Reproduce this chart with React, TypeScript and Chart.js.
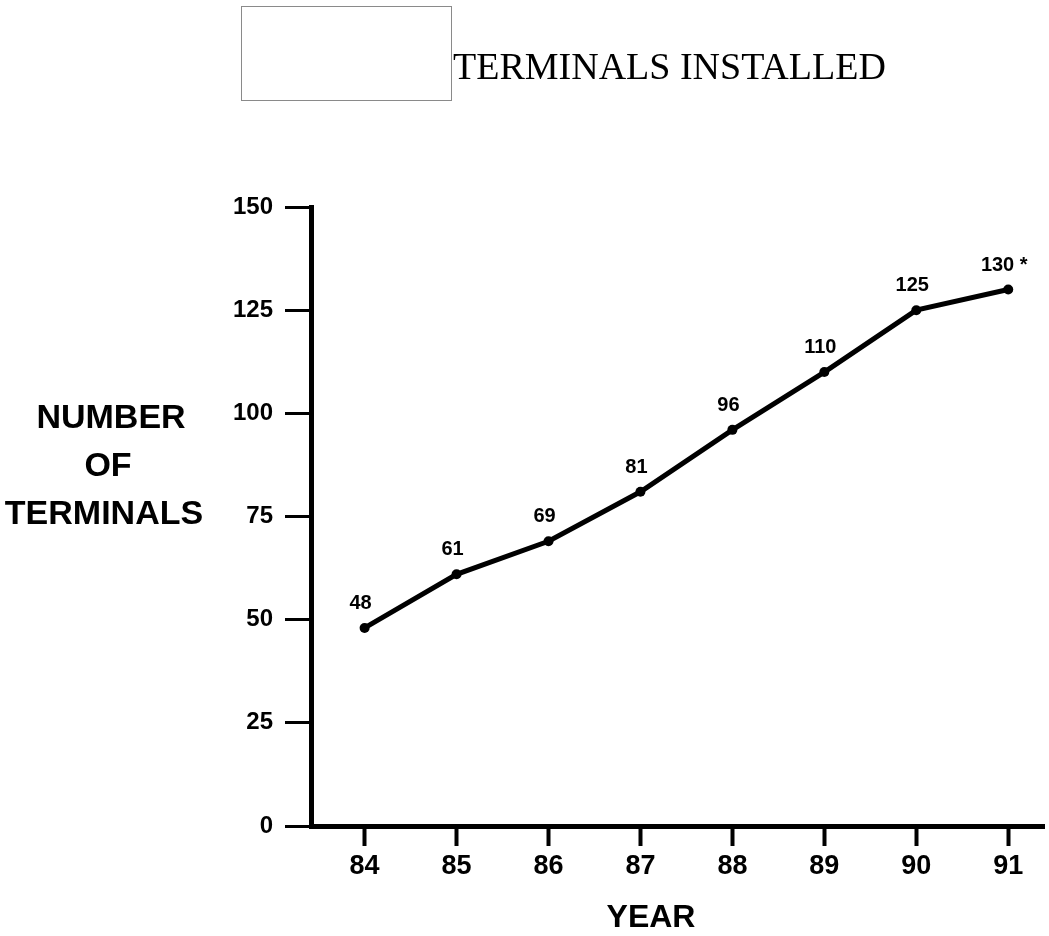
import React, { useEffect, useRef } from "react";
import { Chart, registerables } from "chart.js";

Chart.register(...registerables);

const chartTitle = "TERMINALS INSTALLED";
const yTitleLines = ["NUMBER", "OF", "TERMINALS"];
const xTitle = "YEAR";
const years = [84, 85, 86, 87, 88, 89, 90, 91];
const terminals = [48, 61, 69, 81, 96, 110, 125, 130];
const pointLabels = ["48", "61", "69", "81", "96", "110", "125", "130 *"];
const yTicks = [0, 25, 50, 75, 100, 125, 150];

const W = 1049;
const H = 936;

const decorPlugin = {
  id: "decor",
  afterDraw(chart: any) {
    const ctx = chart.ctx as CanvasRenderingContext2D;
    ctx.save();
    // empty box left of the title
    ctx.strokeStyle = "#8a8a8a";
    ctx.lineWidth = 1;
    ctx.strokeRect(241.5, 6.5, 210, 94);
    // title
    ctx.fillStyle = "#000";
    ctx.font = "38px 'Liberation Serif', 'Times New Roman', serif";
    ctx.textAlign = "left";
    ctx.textBaseline = "alphabetic";
    ctx.fillText(chartTitle, 453, 79);
    // y title
    ctx.font = "bold 34px 'Liberation Sans', Arial, sans-serif";
    ctx.textAlign = "center";
    ctx.textBaseline = "middle";
    const ys = [419, 467, 515];
    const xs = [111, 108, 104];
    yTitleLines.forEach((t, i) => ctx.fillText(t, xs[i], ys[i]));
    // x title
    ctx.font = "bold 32px 'Liberation Sans', Arial, sans-serif";
    ctx.textBaseline = "alphabetic";
    ctx.fillText(xTitle, 651, 927);
    // point labels
    const meta = chart.getDatasetMeta(0);
    ctx.font = "bold 20px 'Liberation Sans', Arial, sans-serif";
    meta.data.forEach((pt: any, i: number) => {
      ctx.fillText(pointLabels[i], pt.x - 4, pt.y - 19);
    });
    ctx.restore();
  },
};

export default function App() {
  const ref = useRef<HTMLCanvasElement>(null);
  useEffect(() => {
    if (!ref.current) return;
    const chart = new Chart(ref.current, {
      type: "line",
      data: {
        datasets: [
          {
            data: years.map((y, i) => ({ x: y, y: terminals[i] })),
            borderColor: "#000",
            backgroundColor: "#000",
            borderWidth: 5,
            pointRadius: 5,
            pointBackgroundColor: "#000",
            pointBorderWidth: 0,
            tension: 0,
          },
        ],
      },
      options: {
        animation: false,
        responsive: false,
        maintainAspectRatio: false,
        layout: { padding: { top: 207, right: 0, bottom: 0, left: 0 } },
        plugins: {
          legend: { display: false },
          tooltip: { enabled: false },
          title: { display: false },
        },
        scales: {
          x: {
            type: "linear",
            min: 83.417,
            max: 91.389,
            afterBuildTicks: (scale: any) => {
              scale.ticks = years.map((v) => ({ value: v }));
            },
            afterFit: (scale: any) => {
              scale.height = 110;
            },
            border: { display: true, color: "#000", width: 5 },
            grid: {
              drawOnChartArea: false,
              drawTicks: true,
              tickLength: 20,
              tickWidth: 4,
              tickColor: "#000",
            },
            ticks: {
              color: "#000",
              padding: 4,
              autoSkip: false,
              maxRotation: 0,
              font: { family: "'Liberation Sans', Arial, sans-serif", size: 27, weight: "bold" },
              callback: (v: any) => String(v),
            },
          },
          y: {
            type: "linear",
            min: 0,
            max: 150,
            afterBuildTicks: (scale: any) => {
              scale.ticks = yTicks.map((v) => ({ value: v }));
            },
            afterFit: (scale: any) => {
              scale.width = 311;
            },
            border: { display: true, color: "#000", width: 5 },
            grid: {
              drawOnChartArea: false,
              drawTicks: true,
              tickLength: 26,
              tickWidth: 3,
              tickColor: "#000",
            },
            ticks: {
              color: "#000",
              padding: 12,
              font: { family: "'Liberation Sans', Arial, sans-serif", size: 24, weight: "bold" },
            },
          },
        },
      },
      plugins: [decorPlugin],
    });
    return () => chart.destroy();
  }, []);

  return (
    <div style={{ position: "absolute", left: 0, top: 0, width: W, height: H, background: "#fff" }}>
      <canvas ref={ref} width={W} height={H} style={{ width: W, height: H, display: "block" }} />
    </div>
  );
}
